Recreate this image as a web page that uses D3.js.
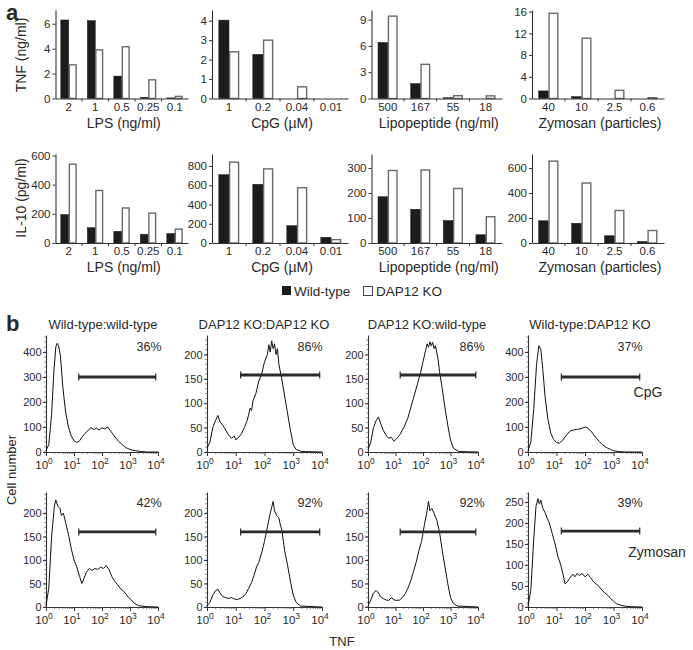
<!DOCTYPE html>
<html><head><meta charset="utf-8">
<script src="https://cdn.jsdelivr.net/npm/d3@7"></script>
<style>
body{margin:0;background:#fff}
text{font-family:"Liberation Sans",Arial,Helvetica,sans-serif;fill:#2a2a2a}
</style>
</head><body><svg id="c" width="693" height="650"></svg>
<script>
// ---------- Data: part a (bar charts) ----------
const series = ["Wild-type", "DAP12 KO"];
const lpsCats = ["2", "1", "0.5", "0.25", "0.1"];
const cpgCats = ["1", "0.2", "0.04", "0.01"];
const lipoCats = ["500", "167", "55", "18"];
const zymoCats = ["40", "10", "2.5", "0.6"];

const tnfLpsWT = [6.3, 6.25, 1.8, 0.1, 0.05];
const tnfLpsKO = [2.7, 3.9, 4.15, 1.5, 0.17];
const tnfCpgWT = [4.03, 2.27, 0, 0];
const tnfCpgKO = [2.4, 3.0, 0.6, 0];
const tnfLipoWT = [6.4, 1.7, 0.1, 0];
const tnfLipoKO = [9.4, 3.9, 0.32, 0.3];
const tnfZymoWT = [1.4, 0.35, 0, 0];
const tnfZymoKO = [15.7, 11.1, 1.5, 0.15];

const il10LpsWT = [195, 105, 80, 60, 65];
const il10LpsKO = [540, 360, 240, 205, 95];
const il10CpgWT = [710, 610, 180, 60];
const il10CpgKO = [840, 770, 575, 35];
const il10LipoWT = [185, 135, 90, 33];
const il10LipoKO = [290, 292, 218, 105];
const il10ZymoWT = [178, 158, 58, 12];
const il10ZymoKO = [655, 480, 260, 100];

const tnfTicks = [[0,2,4,6],[0,1,2,3,4],[0,3,6,9],[0,4,8,12,16]];
const il10Ticks = [[0,200,400,600],[0,200,400,600,800],[0,100,200,300],[0,200,400,600]];

// ---------- Data: part b (flow histograms, [log10 TNF, cell number]) ----------
const histTitles = ["Wild-type:wild-type", "DAP12 KO:DAP12 KO", "DAP12 KO:wild-type", "Wild-type:DAP12 KO"];
const cpgPercents = ["36%", "86%", "86%", "37%"];
const zymoPercents = ["42%", "92%", "92%", "39%"];
const decadeTicks = [1, 10, 100, 1000, 10000];

const hCpgWTWT = [[0,5],[0.1,30],[0.2,150],[0.28,320],[0.35,420],[0.4,435],[0.45,425],[0.52,380],[0.6,260],[0.7,160],[0.8,100],[0.9,65],[1.0,45],[1.1,38],[1.2,45],[1.3,62],[1.4,75],[1.5,85],[1.6,98],[1.7,90],[1.8,95],[1.9,88],[2.0,97],[2.1,92],[2.2,100],[2.3,85],[2.4,70],[2.5,55],[2.6,42],[2.7,32],[2.8,22],[2.9,15],[3.0,10],[3.2,5],[3.4,2],[3.6,0],[4,0]];
const hCpgKOKO = [[0,8],[0.1,20],[0.2,50],[0.3,65],[0.38,75],[0.45,62],[0.55,55],[0.65,45],[0.75,35],[0.85,28],[0.95,33],[1.0,25],[1.1,30],[1.2,38],[1.3,50],[1.4,65],[1.5,90],[1.55,85],[1.6,105],[1.7,120],[1.8,145],[1.9,160],[2.0,185],[2.1,200],[2.15,220],[2.2,205],[2.25,228],[2.3,212],[2.35,222],[2.4,200],[2.45,212],[2.5,180],[2.6,150],[2.7,115],[2.8,80],[2.9,45],[3.0,15],[3.1,5],[3.3,1],[4,0]];
const hCpgKOWT = [[0,5],[0.1,20],[0.2,50],[0.3,65],[0.38,72],[0.45,60],[0.55,45],[0.65,35],[0.75,28],[0.85,30],[0.95,22],[1.05,28],[1.15,35],[1.3,50],[1.45,70],[1.6,100],[1.7,120],[1.8,140],[1.9,160],[2.0,185],[2.1,210],[2.15,222],[2.2,215],[2.25,226],[2.3,218],[2.35,225],[2.4,212],[2.45,218],[2.55,190],[2.6,165],[2.7,130],[2.8,90],[2.9,55],[3.0,25],[3.1,8],[3.3,1],[4,0]];
const hCpgWTKO = [[0,5],[0.1,40],[0.2,170],[0.3,350],[0.38,425],[0.45,410],[0.52,330],[0.6,220],[0.7,130],[0.8,75],[0.9,50],[1.0,38],[1.1,35],[1.2,45],[1.3,60],[1.4,75],[1.5,85],[1.6,88],[1.7,90],[1.8,92],[1.9,95],[2.0,100],[2.1,95],[2.2,85],[2.3,70],[2.4,55],[2.5,42],[2.6,30],[2.7,22],[2.8,15],[2.9,10],[3.0,5],[3.2,2],[3.4,0],[4,0]];
const hZymoWTWT = [[0,3],[0.1,40],[0.2,150],[0.3,215],[0.35,228],[0.42,215],[0.5,210],[0.55,195],[0.62,200],[0.7,180],[0.8,155],[0.85,140],[0.9,125],[1.0,100],[1.1,85],[1.2,65],[1.28,50],[1.35,60],[1.45,75],[1.55,82],[1.65,78],[1.75,82],[1.85,80],[1.95,85],[2.05,82],[2.15,88],[2.25,80],[2.35,65],[2.45,55],[2.55,48],[2.65,40],[2.75,35],[2.85,28],[2.95,20],[3.05,15],[3.15,8],[3.3,3],[3.5,1],[4,0]];
const hZymoKOKO = [[0,3],[0.1,10],[0.2,25],[0.3,35],[0.38,38],[0.45,30],[0.55,22],[0.65,20],[0.75,18],[0.85,20],[0.95,17],[1.05,16],[1.15,18],[1.25,22],[1.35,28],[1.45,40],[1.55,52],[1.65,70],[1.72,85],[1.8,95],[1.9,115],[2.0,140],[2.1,170],[2.2,200],[2.3,225],[2.35,205],[2.42,195],[2.5,190],[2.55,175],[2.6,165],[2.7,120],[2.8,90],[2.9,55],[3.0,25],[3.1,10],[3.25,2],[4,0]];
const hZymoKOWT = [[0,3],[0.1,15],[0.2,30],[0.3,35],[0.38,30],[0.45,22],[0.55,18],[0.65,15],[0.75,14],[0.85,20],[0.95,15],[1.05,14],[1.15,15],[1.25,20],[1.35,28],[1.45,40],[1.55,55],[1.65,75],[1.75,95],[1.85,120],[1.95,140],[2.05,175],[2.15,205],[2.2,225],[2.25,205],[2.32,210],[2.4,200],[2.5,185],[2.6,160],[2.7,120],[2.8,85],[2.9,50],[3.0,20],[3.1,8],[3.25,2],[4,0]];
const hZymoWTKO = [[0,3],[0.1,40],[0.2,160],[0.28,240],[0.35,258],[0.4,245],[0.45,255],[0.52,235],[0.6,225],[0.68,210],[0.75,200],[0.85,175],[0.95,150],[1.05,120],[1.15,100],[1.22,80],[1.3,55],[1.38,60],[1.48,70],[1.58,78],[1.65,72],[1.72,80],[1.8,75],[1.9,80],[2.0,72],[2.1,78],[2.2,70],[2.3,60],[2.4,55],[2.5,48],[2.6,40],[2.7,33],[2.8,28],[2.9,20],[3.0,14],[3.1,8],[3.25,4],[3.5,1],[4,0]];

const cpgHistTicks = [[0,100,200,300,400],[0,50,100,150,200],[0,50,100,150,200],[0,100,200,300,400]];
const zymoHistTicks = [[0,50,100,150,200],[0,50,100,150,200],[0,50,100,150,200],[0,50,100,150,200,250]];
const gateLog = [1.17, 3.92];
const cpgGates = [300, 158, 158, 300];
const zymoGates = [160, 160, 160, 181];

// ---------- Drawing ----------
const svg = d3.select("#c");
const AX = "#333";
const fmt = d3.format("~g");

function styleAxis(g){
  g.selectAll("path.domain").attr("stroke", AX).attr("stroke-width", 1.1);
  g.selectAll(".tick line").attr("stroke", AX);
  g.selectAll(".tick text").attr("fill", "#2a2a2a").style("font-family","'Liberation Sans',Arial,sans-serif");
}

function barPanel(cats, wt, ko, yMax, ticks, r0, r1, yBase, yTop, xLabel, tickY, labelY){
  const g = svg.append("g");
  const x = d3.scaleBand().domain(cats).range([r0, r1]).paddingInner(0.4).paddingOuter(0.2);
  const xs = d3.scaleBand().domain(series).range([0, x.bandwidth()]);
  const y = d3.scaleLinear().domain([0, yMax]).range([yBase, yTop]);
  const rows = cats.map((c,i)=>({c, v:[wt[i], ko[i]]}));
  const grp = g.selectAll("g.grp").data(rows).join("g").attr("transform", d=>`translate(${x(d.c)},0)`);
  grp.selectAll("rect").data(d=>d.v.map((v,j)=>({s:series[j], v}))).join("rect")
    .attr("x", d=>xs(d.s)+ (d.s===series[1]?0.6:0))
    .attr("width", d=>xs.bandwidth() - (d.s===series[1]?1.2:0))
    .attr("y", d=>y(d.v))
    .attr("height", d=>Math.max(0, yBase - y(d.v)))
    .attr("fill", d=>d.s===series[0] ? "#1c1c1c" : "#fff")
    .attr("stroke", d=>d.s===series[0] ? "#1c1c1c" : "#6a6a6a")
    .attr("stroke-width", d=>d.s===series[0] ? 0.5 : 1.4);
  const ya = g.append("g").attr("transform", `translate(${r0},0)`)
    .call(d3.axisLeft(y).tickValues(ticks).tickFormat(fmt).tickSize(3).tickSizeOuter(0).tickPadding(2))
    .attr("font-size", 11.5);
  styleAxis(ya);
  const xa = g.append("g").attr("transform", `translate(0,${yBase})`)
    .call(d3.axisBottom(x).tickSize(0).tickSizeOuter(0).tickPadding(tickY))
    .attr("font-size", 11.5);
  styleAxis(xa);
  const step = x.step();
  g.selectAll("line.sep").data(cats.slice(1)).join("line")
    .attr("x1", d=>x(d) - step*x.paddingInner()/2).attr("x2", d=>x(d) - step*x.paddingInner()/2)
    .attr("y1", yBase).attr("y2", yBase+3).attr("stroke", AX);
  g.append("text").attr("x", (r0+r1)/2 + 2).attr("y", yBase + labelY)
    .attr("text-anchor","middle").attr("font-size", 14).text(xLabel);
}

const colR = [[55.5,188],[212,348],[371.5,502],[532,664]];
const xLabels = ["LPS (ng/ml)", "CpG (\u00B5M)", "Lipopeptide (ng/ml)", "Zymosan (particles)"];
const catsAll = [lpsCats, cpgCats, lipoCats, zymoCats];
const tnfWT = [tnfLpsWT, tnfCpgWT, tnfLipoWT, tnfZymoWT];
const tnfKO = [tnfLpsKO, tnfCpgKO, tnfLipoKO, tnfZymoKO];
const ilWT = [il10LpsWT, il10CpgWT, il10LipoWT, il10ZymoWT];
const ilKO = [il10LpsKO, il10CpgKO, il10LipoKO, il10ZymoKO];
const tnfMax = [7.1, 4.55, 10.1, 16.3];
const ilMax = [610, 925, 356, 712];

for (let i=0;i<4;i++){
  barPanel(catsAll[i], tnfWT[i], tnfKO[i], tnfMax[i], tnfTicks[i], colR[i][0], colR[i][1], 98.5, 10, xLabels[i], 4, 29);
  barPanel(catsAll[i], ilWT[i], ilKO[i], ilMax[i], il10Ticks[i], colR[i][0], colR[i][1], 243, 154, xLabels[i], 4, 29);
}

svg.append("text").attr("transform","translate(26,55) rotate(-90)").attr("text-anchor","middle").attr("font-size",14).text("TNF (ng/ml)");
svg.append("text").attr("transform","translate(26,198) rotate(-90)").attr("text-anchor","middle").attr("font-size",14).text("IL-10 (pg/ml)");

const leg = svg.append("g");
leg.append("rect").attr("x",282).attr("y",286).attr("width",9).attr("height",9).attr("fill","#1c1c1c");
leg.append("text").attr("x",294).attr("y",296).attr("font-size",13.5).text(series[0]);
leg.append("rect").attr("x",363.5).attr("y",286.5).attr("width",9).attr("height",9).attr("fill","#fff").attr("stroke","#444").attr("stroke-width",1);
leg.append("text").attr("x",376).attr("y",296).attr("font-size",13.5).text(series[1]);

svg.append("text").attr("x",6).attr("y",20).attr("font-size",22).attr("font-weight","bold").text("a");
svg.append("text").attr("x",6).attr("y",331).attr("font-size",22).attr("font-weight","bold").text("b");

function histPanel(data, x0, x1, yBase, yTop, yMax, ticks, gateVal, pct, pctX, pctY){
  const g = svg.append("g");
  const x = d3.scaleLog().domain([1, 1e4]).range([x0, x1]);
  const y = d3.scaleLinear().domain([0, yMax]).range([yBase, yTop]);
  const mstep = yMax > 300 ? 20 : 10;
  g.selectAll("line.my").data(d3.range(0, yMax, mstep)).join("line")
    .attr("x1", x0-2).attr("x2", x0).attr("y1", d=>y(d)).attr("y2", d=>y(d)).attr("stroke","#555").attr("stroke-width",0.6);
  const ya = g.append("g").attr("transform",`translate(${x0},0)`)
    .call(d3.axisLeft(y).tickValues(ticks).tickFormat(fmt).tickSize(3).tickSizeOuter(0).tickPadding(1.5)).attr("font-size",11);
  styleAxis(ya);
  const xa = g.append("g").attr("transform",`translate(0,${yBase})`)
    .call(d3.axisBottom(x).tickValues(decadeTicks).tickSize(4).tickSizeOuter(0).tickFormat(()=>""));
  styleAxis(xa);
  const minors = [];
  for (let e=0;e<4;e++) for (let k=2;k<10;k++) minors.push(k*Math.pow(10,e));
  g.selectAll("line.mx").data(minors).join("line")
    .attr("x1", d=>x(d)).attr("x2", d=>x(d)).attr("y1", yBase).attr("y2", yBase+2).attr("stroke","#555").attr("stroke-width",0.7);
  const lab = g.selectAll("text.dec").data(decadeTicks).join("text")
    .attr("x", d=>x(d)-2).attr("y", yBase+17).attr("text-anchor","middle").attr("font-size",11.5);
  lab.append("tspan").text("10");
  lab.append("tspan").attr("dy",-5).attr("font-size",8.5).text((d,i)=>i);
  const line = d3.line().x(d=>x(Math.pow(10,d[0]))).y(d=>y(d[1]));
  g.append("path").datum(data).attr("d", line).attr("fill","none").attr("stroke","#111").attr("stroke-width",1);
  const gy = y(gateVal), ga = x(Math.pow(10,gateLog[0])), gb = x(Math.pow(10,gateLog[1]));
  g.append("line").attr("x1",ga).attr("x2",gb).attr("y1",gy).attr("y2",gy).attr("stroke","#2a2a2a").attr("stroke-width",2.8);
  [ga,gb].forEach(px=>g.append("line").attr("x1",px).attr("x2",px).attr("y1",gy-3.5).attr("y2",gy+3.5).attr("stroke","#2a2a2a").attr("stroke-width",1.2));
  g.append("text").attr("x",pctX).attr("y",pctY).attr("text-anchor","middle").attr("font-size",12.5).text(pct);
}

const hx = [[46,158],[207,322],[368,478],[528,642]];
const pctXs = [149, 310, 472, 630];
const cpgHists = [hCpgWTWT, hCpgKOKO, hCpgKOWT, hCpgWTKO];
const zymoHists = [hZymoWTWT, hZymoKOKO, hZymoKOWT, hZymoWTKO];
const cpgMax = [468, 240, 240, 468];
const zymoMax = [245, 245, 245, 274];
const titleX = [103, 264, 427, 590];

for (let i=0;i<4;i++){
  histPanel(cpgHists[i], hx[i][0], hx[i][1], 452, 335, cpgMax[i], cpgHistTicks[i], cpgGates[i], cpgPercents[i], pctXs[i], 351);
  histPanel(zymoHists[i], hx[i][0], hx[i][1], 607, 492, zymoMax[i], zymoHistTicks[i], zymoGates[i], zymoPercents[i], pctXs[i], 507);
  svg.append("text").attr("x",titleX[i]).attr("y",329).attr("text-anchor","middle").attr("font-size",13).text(histTitles[i]);
}
svg.append("text").attr("x",648).attr("y",397).attr("text-anchor","middle").attr("font-size",14).text("CpG");
svg.append("text").attr("x",657).attr("y",557).attr("text-anchor","middle").attr("font-size",14).text("Zymosan");
svg.append("text").attr("transform","translate(16,470) rotate(-90)").attr("text-anchor","middle").attr("font-size",13).text("Cell number");
svg.append("text").attr("x",342).attr("y",646).attr("text-anchor","middle").attr("font-size",13).text("TNF");
</script>
</body></html>
